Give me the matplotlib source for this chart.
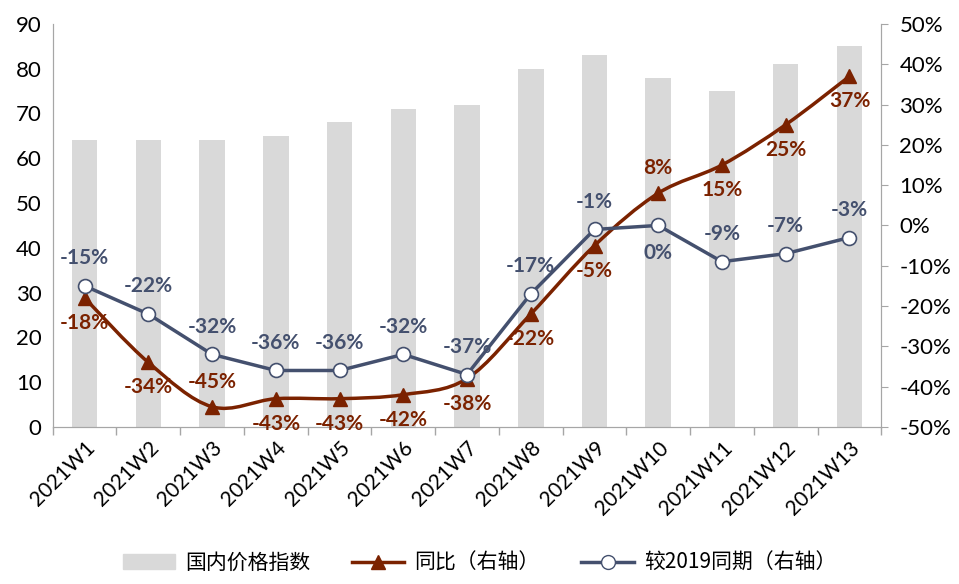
import numpy as np
import matplotlib
matplotlib.use("Agg")
import matplotlib.pyplot as plt
from matplotlib.path import Path
from matplotlib.patches import PathPatch
from matplotlib.lines import Line2D
from matplotlib.ticker import FuncFormatter, MultipleLocator

plt.rcParams['font.family'] = ['Lato', 'Noto Sans CJK SC', 'DejaVu Sans']

weeks = ['2021W%d' % i for i in range(1, 14)]
price_index = [64, 64, 64, 65, 68, 71, 72, 80, 83, 78, 75, 81, 85]
yoy = [-18, -34, -45, -43, -43, -42, -38, -22, -5, 8, 15, 25, 37]
vs2019 = [-15, -22, -32, -36, -36, -32, -37, -17, -1, 0, -9, -7, -3]

# label side: +1 above, -1 below
yoy_side = [-1, -1, 1, -1, -1, -1, -1, -1, -1, 1, -1, -1, -1]
vs_side = [1, 1, 1, 1, 1, 1, 1, 1, 1, -1, 1, 1, 1]

GREY = '#D9D9D9'
RED = '#7B2200'
BLUE = '#44506E'
AXC = '#A6A6A6'

fig = plt.figure(figsize=(9.59, 5.84), dpi=100)
ax = fig.add_axes([0.055, 0.269, 0.864, 0.690])
ax2 = ax.twinx()

x = np.arange(len(weeks))
ax.bar(x, price_index, width=0.4, color=GREY, zorder=1)
ax.set_ylim(0, 90)
ax.set_xlim(-0.5, len(weeks) - 0.5)
ax.yaxis.set_major_locator(MultipleLocator(10))
ax.tick_params(axis='y', length=0, labelsize=16, pad=8)
ax.set_xticks(x)
ax.set_xticklabels(weeks, rotation=45, ha='right', rotation_mode='anchor', fontsize=15)
ax.tick_params(axis='x', length=0, pad=8)
ax.set_xticks(np.arange(-0.5, len(weeks)), minor=True)
ax.tick_params(axis='x', which='minor', length=6, color=AXC, width=1)

for a in (ax, ax2):
    a.spines['top'].set_visible(False)
    for s in ('left', 'right', 'bottom'):
        a.spines[s].set_color(AXC)

ax2.set_ylim(-50, 50)
ax2.yaxis.set_major_locator(MultipleLocator(10))
ax2.yaxis.set_major_formatter(FuncFormatter(lambda v, p: '%d%%' % round(v)))
ax2.tick_params(axis='y', length=5, color=AXC, labelsize=16, pad=8)


# smoothed red line (Bezier through the points)
def smooth_path(xs, ys):
    pts = np.column_stack([xs, ys]).astype(float)
    verts = [pts[0]]
    codes = [Path.MOVETO]
    n = len(pts)
    for i in range(n - 1):
        p0 = pts[i - 1] if i > 0 else pts[i]
        p1 = pts[i]
        p2 = pts[i + 1]
        p3 = pts[i + 2] if i + 2 < n else pts[i + 1]
        c1 = p1 + (p2 - p0) / 6.0
        c2 = p2 - (p3 - p1) / 6.0
        verts += [c1, c2, p2]
        codes += [Path.CURVE4] * 3
    return Path(verts, codes)


ax2.add_patch(PathPatch(smooth_path(x, yoy), facecolor='none', edgecolor=RED, lw=2.5, zorder=3))
ax2.plot(x, yoy, linestyle='none', marker='^', markersize=10, color=RED, zorder=4)
ax2.plot(x, vs2019, color=BLUE, lw=2.5, marker='o', markersize=10,
         markerfacecolor='white', markeredgecolor=BLUE, markeredgewidth=1.2, zorder=5)

for xi, v, s in zip(x, yoy, yoy_side):
    ax2.annotate('%d%%' % v, (xi, v), xytext=(0, 18 * s), textcoords='offset points',
                 ha='center', va='center', color=RED, fontsize=15, fontweight='bold', zorder=6)
for xi, v, s in zip(x, vs2019, vs_side):
    ax2.annotate('%d%%' % v, (xi, v), xytext=(0, 20 * s), textcoords='offset points',
                 ha='center', va='center', color=BLUE, fontsize=15, fontweight='bold', zorder=6)

handles = [
    plt.Rectangle((0, 0), 1, 1, color=GREY),
    Line2D([], [], color=RED, lw=2.5, marker='^', markersize=10),
    Line2D([], [], color=BLUE, lw=2.5, marker='o', markersize=10,
           markerfacecolor='white', markeredgecolor=BLUE),
]
labels = ['国内价格指数', '同比（右轴）', '较2019同期（右轴）']
fig.legend(handles, labels, loc='center', bbox_to_anchor=(0.5, 0.036), ncol=3,
           frameon=False, handlelength=2.5, handletextpad=0.5, columnspacing=2.0,
           prop={'family': ['Noto Sans CJK SC', 'DejaVu Sans'], 'size': 15})

fig.savefig('out.png', dpi=100)
